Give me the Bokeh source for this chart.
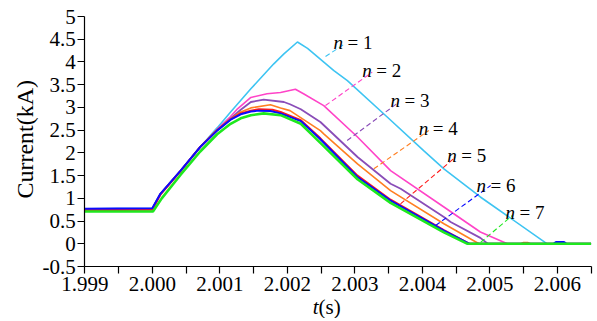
import math
from bokeh.plotting import figure
from bokeh.models import Range1d, FixedTicker, NumeralTickFormatter, Label, ColumnDataSource
from bokeh.embed import file_html
from bokeh.resources import INLINE

# ---- data (time in s, current in kA) ----
t_n1 = [1.999, 2.0, 2.00012, 2.00042, 2.00071, 2.00096, 2.00116, 2.00146, 2.0018, 2.00195, 2.00215,
        2.0023, 2.00269, 2.00289, 2.00348, 2.00402, 2.00432, 2.00486, 2.00585, 2.0065]
i_n1 = [0.77, 0.78, 1.1, 1.61, 2.13, 2.55, 2.9, 3.41, 3.96, 4.18, 4.44,
        4.3, 3.81, 3.59, 2.79, 2.05, 1.65, 1.03, 0.0, 0.0]

t_n2 = [1.999, 2.0, 2.00012, 2.00042, 2.00071, 2.00096, 2.00116, 2.00125, 2.00146, 2.0017, 2.0019,
        2.00212, 2.00224, 2.00254, 2.00304, 2.00353, 2.00432, 2.00486, 2.00526, 2.0065]
i_n2 = [0.76, 0.77, 1.1, 1.61, 2.13, 2.52, 2.8, 2.95, 3.22, 3.3, 3.33,
        3.4, 3.3, 3.04, 2.35, 1.61, 0.81, 0.26, 0.0, 0.0]

t_n3 = [1.999, 2.0, 2.00012, 2.00042, 2.00071, 2.00096, 2.00116, 2.00131, 2.00146, 2.00165, 2.00195,
        2.00204, 2.0022, 2.00249, 2.00304, 2.00353, 2.00368, 2.00432, 2.00442, 2.00486, 2.00497, 2.0065]
i_n3 = [0.76, 0.77, 1.1, 1.61, 2.13, 2.5, 2.76, 2.95, 3.12, 3.17, 3.12,
        3.07, 2.96, 2.68, 1.91, 1.32, 1.21, 0.59, 0.48, 0.13, 0.0, 0.0]

t_n4 = [1.999, 2.0, 2.00012, 2.00042, 2.00071, 2.00096, 2.00116, 2.00131, 2.00146, 2.00175, 2.0019,
        2.00204, 2.00249, 2.00254, 2.00304, 2.00353, 2.00432, 2.00484, 2.00546, 2.0055, 2.00556,
        2.0056, 2.0065]
i_n4 = [0.75, 0.76, 1.09, 1.6, 2.13, 2.5, 2.75, 2.9, 2.99, 3.06, 2.99,
        2.93, 2.49, 2.42, 1.76, 1.17, 0.44, 0.0, 0.0, 0.03, 0.03,
        0.0, 0.0]

t_n5 = [1.999, 2.0, 2.00012, 2.00042, 2.00071, 2.00096, 2.00116, 2.00131, 2.00146, 2.00158, 2.00178,
        2.0019, 2.0022, 2.00249, 2.00304, 2.00353, 2.00432, 2.0047, 2.0065]
i_n5 = [0.74, 0.75, 1.08, 1.6, 2.13, 2.5, 2.74, 2.87, 2.93, 2.96, 2.95,
        2.9, 2.72, 2.32, 1.5, 0.97, 0.3, 0.0, 0.0]

t_n6 = [1.999, 2.0, 2.00012, 2.00042, 2.00071, 2.00096, 2.00116, 2.00131, 2.00146, 2.00157, 2.00175,
        2.0019, 2.0022, 2.00249, 2.00304, 2.00353, 2.00432, 2.0047, 2.00594, 2.00598, 2.0061,
        2.00614, 2.0065]
i_n6 = [0.77, 0.78, 1.1, 1.61, 2.13, 2.49, 2.73, 2.85, 2.91, 2.93, 2.92,
        2.87, 2.7, 2.3, 1.47, 0.95, 0.29, 0.0, 0.0, 0.04, 0.04,
        0.0, 0.0]

t_n7 = [1.999, 2.00001, 2.00014, 2.00042, 2.00071, 2.00096, 2.00116, 2.00131, 2.00146, 2.00165, 2.0019,
        2.0022, 2.00249, 2.00304, 2.00353, 2.00432, 2.00467, 2.0065]
i_n7 = [0.71, 0.71, 1.0, 1.52, 2.03, 2.41, 2.64, 2.76, 2.83, 2.87, 2.83,
        2.64, 2.22, 1.42, 0.9, 0.25, 0.0, 0.0]

series_t = [t_n1, t_n2, t_n3, t_n4, t_n5, t_n6, t_n7]
series_i = [i_n1, i_n2, i_n3, i_n4, i_n5, i_n6, i_n7]
n_values = ["1", "2", "3", "4", "5", "6", "7"]

# leader lines and label anchors (data units)
lead_t0 = [2.002566, 2.002566, 2.002887, 2.003282, 2.003677, 2.004198, 2.004864]
lead_i0 = [4.121, 3.043, 2.273, 1.650, 0.880, 0.403, 0.033]
lead_t1 = [2.002837, 2.003258, 2.003647, 2.004096, 2.004492, 2.005013, 2.005332]
lead_i1 = [4.385, 3.776, 3.109, 2.493, 1.906, 1.283, 0.620]
label_t = [2.002684, 2.003110, 2.003529, 2.003948, 2.004369, 2.004803, 2.005233]
label_i = [4.436, 3.813, 3.153, 2.530, 1.943, 1.283, 0.695]

x_major = [1.999, 2.000, 2.001, 2.002, 2.003, 2.004, 2.005, 2.006]
x_minor = [1.9995, 2.0005, 2.0015, 2.0025, 2.0035, 2.0045, 2.0055, 2.0065]
y_ticks = [-0.5, 0, 0.5, 1, 1.5, 2, 2.5, 3, 3.5, 4, 4.5, 5]
x_bounds = (1.999, 2.0065)
y_bounds = (-0.5, 5)

# ---- styles ----
colors = ["#3ec4f2", "#ff44c8", "#8a4db8", "#ff7f22", "#ff1a1a", "#0a0aff", "#1ee81e"]
widths = [1.6, 1.6, 1.8, 1.6, 2.0, 2.0, 2.6]
FONT = "Liberation Serif"

# the frame covers the whole canvas; the axes are pinned at the data bounds
p = figure(width=593, height=318, output_backend="svg", toolbar_location=None,
           x_range=Range1d(1.9977511, 2.0065363), y_range=Range1d(-1.6436, 5.353),
           min_border_left=0, min_border_right=0, min_border_top=0, min_border_bottom=0)
p.outline_line_color = None
p.xgrid.visible = False
p.ygrid.visible = False
p.background_fill_color = "white"
p.border_fill_color = "white"

for t, i, c, w in zip(series_t, series_i, colors, widths):
    p.line(t, i, line_color=c, line_width=w)

src = ColumnDataSource(dict(x0=lead_t0, y0=lead_i0, x1=lead_t1, y1=lead_i1, c=colors))
p.segment("x0", "y0", "x1", "y1", source=src, line_color="c", line_width=1.1, line_dash="5 3")

for tx, ty, nv in zip(label_t, label_i, n_values):
    p.add_layout(Label(x=tx, y=ty, text="n", text_font=FONT, text_font_size="19px",
                       text_font_style="italic", text_color="black", text_baseline="alphabetic"))
    p.add_layout(Label(x=tx, y=ty, x_offset=14, text="= " + nv, text_font=FONT,
                       text_font_size="19px", text_color="black", text_baseline="alphabetic"))

xa = p.xaxis[0]
xa.ticker = FixedTicker(ticks=x_major, minor_ticks=x_minor)
xa.formatter = NumeralTickFormatter(format="0.000")
xa.fixed_location = y_bounds[0]
xa.bounds = x_bounds
ya = p.yaxis[0]
ya.ticker = FixedTicker(ticks=y_ticks)
ya.formatter = NumeralTickFormatter(format="0.[0]")
ya.fixed_location = x_bounds[0]
ya.bounds = y_bounds

for ax in (xa, ya):
    ax.axis_line_color = "black"
    ax.axis_line_width = 1.2
    ax.major_tick_line_color = "black"
    ax.major_tick_line_width = 1.2
    ax.major_tick_out = 7
    ax.major_tick_in = 0
    ax.minor_tick_line_color = "black"
    ax.minor_tick_line_width = 1.2
    ax.minor_tick_out = 7
    ax.minor_tick_in = 0
    ax.major_label_text_font = FONT
    ax.major_label_text_font_size = "21px"
    ax.major_label_text_color = "black"
ya.major_label_standoff = 2
xa.major_label_standoff = 3

# axis titles
p.add_layout(Label(x=1.9981067, y=2.30, text="Current(kA)", angle=math.pi / 2, text_font=FONT,
                   text_font_size="24px", text_align="center", text_baseline="middle",
                   text_color="black"))
p.add_layout(Label(x=2.002462, y=-1.40, text="t", text_font=FONT, text_font_size="21px",
                   text_font_style="italic", text_align="right", text_baseline="alphabetic",
                   text_color="black"))
p.add_layout(Label(x=2.002462, y=-1.40, text="(s)", text_font=FONT, text_font_size="21px",
                   text_align="left", text_baseline="alphabetic", text_color="black"))

open("out.html", "w").write(file_html(p, INLINE))
